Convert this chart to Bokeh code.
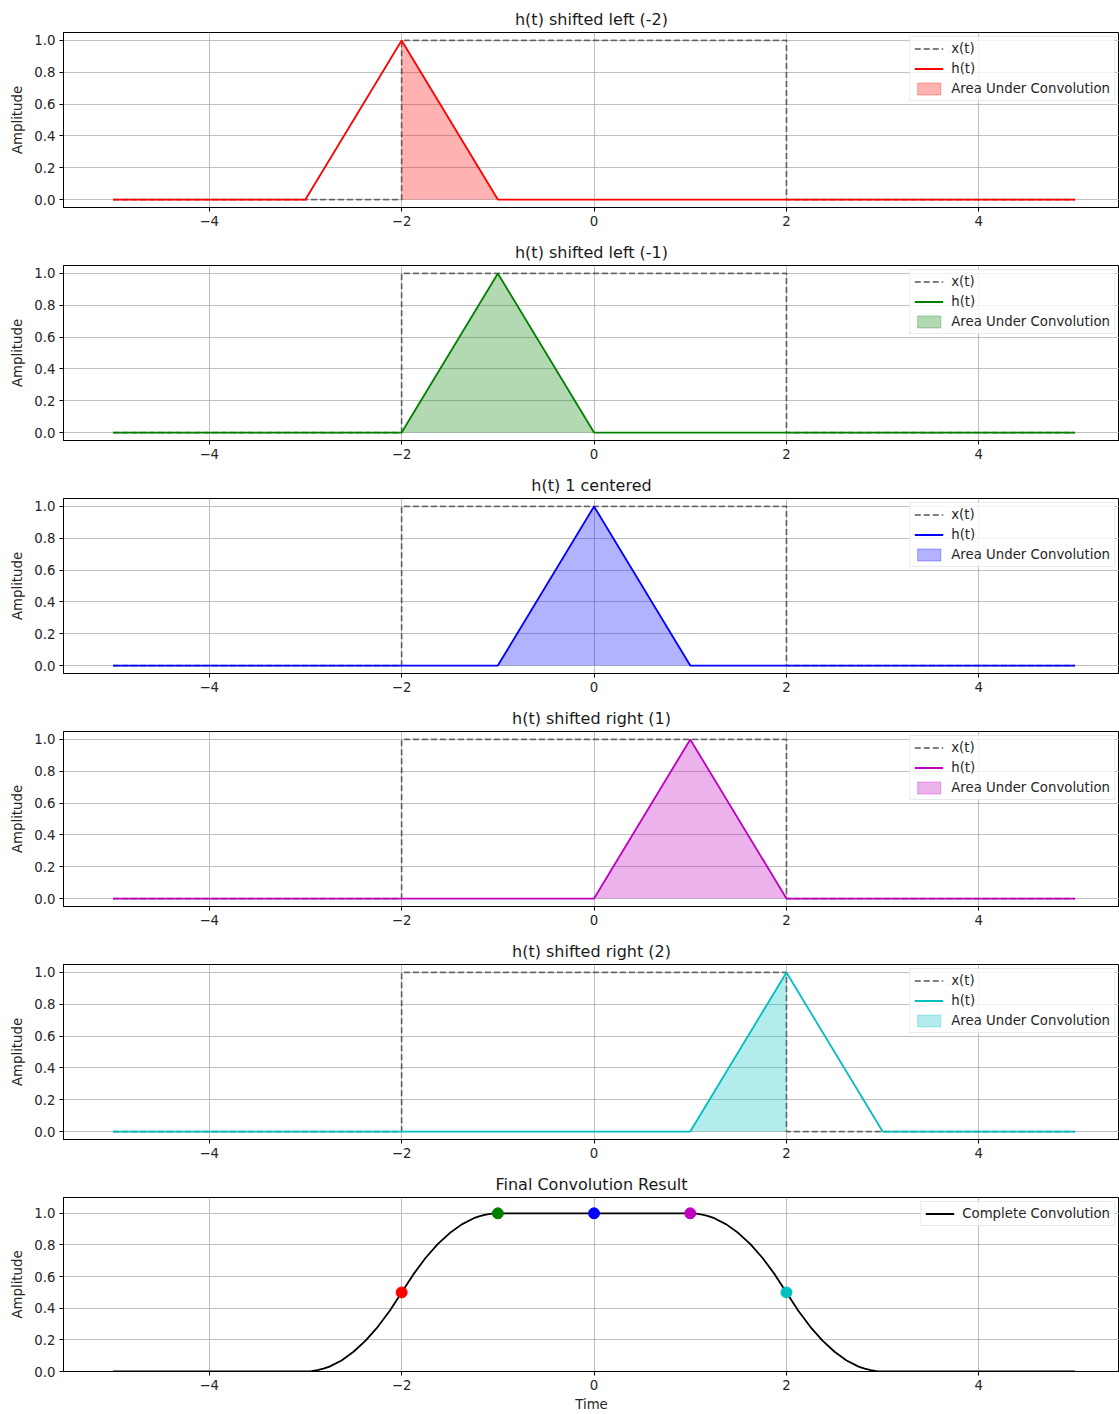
from bokeh.plotting import figure
from bokeh.layouts import column
from bokeh.models import Range1d, FixedTicker, Legend, LegendItem, CustomJSTickFormatter
from bokeh.embed import file_html
from bokeh.resources import INLINE

# Panels: shift of h(t), title and colour
shifts = [-2, -1, 0, 1, 2]
panel_titles = [
    "h(t) shifted left (-2)",
    "h(t) shifted left (-1)",
    "h(t) 1 centered",
    "h(t) shifted right (1)",
    "h(t) shifted right (2)",
]
panel_colors = ["#ff0000", "#008000", "#0000ff", "#bf00bf", "#00bfbf"]

# Rectangular input x(t) on [-5, 5]
rect_t = [-5, -2, -2, 2, 2, 5]
rect_v = [0, 0, 1, 1, 0, 0]

# Triangular pulse h(t), vertices relative to its centre
pulse_t = [-1, 0, 1]
pulse_v = [0, 1, 0]
t_start, t_end = -5, 5

# Overlap of x(t) and the shifted h(t) (area under convolution)
overlap_t = [[-2, -1], [-2, -1, 0], [-1, 0, 1], [0, 1, 2], [1, 2]]
overlap_v = [[1, 0], [0, 1, 0], [0, 1, 0], [0, 1, 0], [0, 1]]

# Complete convolution result
conv_t = [-5, -3, -2.9375, -2.875, -2.8125, -2.75, -2.625, -2.5, -2.375, -2.25,
          -2.125, -2, -1.875, -1.75, -1.625, -1.5, -1.375, -1.25, -1.1875,
          -1.125, -1.0625, -1,
          1, 1.0625, 1.125, 1.1875, 1.25, 1.375, 1.5, 1.625, 1.75, 1.875, 2,
          2.125, 2.25, 2.375, 2.5, 2.625, 2.75, 2.8125, 2.875, 2.9375, 3, 5]
conv_v = [0, 0, 0.002, 0.008, 0.018, 0.031, 0.07, 0.125, 0.195, 0.281,
          0.383, 0.5, 0.617, 0.719, 0.805, 0.875, 0.93, 0.969, 0.982,
          0.992, 0.998, 1.0,
          1.0, 0.998, 0.992, 0.982, 0.969, 0.93, 0.875, 0.805, 0.719, 0.617, 0.5,
          0.383, 0.281, 0.195, 0.125, 0.07, 0.031, 0.018, 0.008, 0.002, 0, 0]

# Convolution value at each shift
marker_t = [-2, -1, 0, 1, 2]
marker_v = [0.5, 1.0, 1.0, 1.0, 0.5]

x_ticks = [-4, -2, 0, 2, 4]
y_ticks = [0.0, 0.2, 0.4, 0.6, 0.8, 1.0]

FONT = "DejaVu Sans"
W = 1119
X_LO, X_HI = -5.515, 5.462
LW = 1.8


def make_fig(title, height, bottom, y_range, xlabel=None):
    p = figure(width=W, height=height, output_backend="svg", toolbar_location=None,
               x_range=Range1d(X_LO, X_HI), y_range=y_range,
               min_border_left=63, min_border_right=0,
               min_border_top=32, min_border_bottom=bottom)
    p.title.text = title
    p.title.align = "center"
    p.title.text_font = FONT
    p.title.text_font_size = "16px"
    p.title.text_font_style = "normal"
    p.title.text_color = "#1a1a1a"
    p.title.standoff = 7
    p.outline_line_color = "black"
    p.outline_line_width = 1
    p.outline_line_alpha = 1

    for ax in (p.xaxis[0], p.yaxis[0]):
        ax.major_label_text_font = FONT
        ax.major_label_text_font_size = "13.3px"
        ax.major_label_text_color = "#262626"
        ax.axis_line_color = "black"
        ax.major_tick_line_color = "black"
        ax.major_tick_in = 0
        ax.major_tick_out = 4
        ax.minor_tick_line_color = None
        ax.major_label_standoff = 4
        ax.axis_label_text_font = FONT
        ax.axis_label_text_font_size = "13.3px"
        ax.axis_label_text_font_style = "normal"
        ax.axis_label_text_color = "#262626"

    p.xaxis.ticker = FixedTicker(ticks=x_ticks)
    p.xaxis.formatter = CustomJSTickFormatter(
        code="return tick < 0 ? '\u2212' + Math.abs(tick) : String(tick);")
    p.yaxis.ticker = FixedTicker(ticks=y_ticks)
    p.yaxis.formatter = CustomJSTickFormatter(code="return tick.toFixed(1);")
    p.yaxis.axis_label = "Amplitude"
    p.yaxis.axis_label_standoff = 6
    if xlabel:
        p.xaxis.axis_label = xlabel
        p.xaxis.axis_label_standoff = 4

    p.xgrid.ticker = FixedTicker(ticks=x_ticks)
    p.ygrid.ticker = FixedTicker(ticks=y_ticks)
    for g in (p.xgrid[0], p.ygrid[0]):
        g.grid_line_color = "#b0b0b0"
        g.grid_line_width = 0.8
    return p


def style_legend(p, items):
    leg = Legend(items=items, location="top_right")
    leg.label_text_font = FONT
    leg.label_text_font_size = "13.3px"
    leg.label_text_color = "#262626"
    leg.glyph_width = 29
    leg.glyph_height = 15
    leg.label_height = 15
    leg.label_standoff = 8
    leg.spacing = 5
    leg.padding = 4
    leg.margin = 4
    leg.border_line_color = "#d6d6d6"
    leg.border_line_width = 1
    leg.background_fill_color = "white"
    leg.background_fill_alpha = 0.8
    p.add_layout(leg)


figs = []
for i, s in enumerate(shifts):
    c = panel_colors[i]
    p = make_fig(panel_titles[i], 233, 26, Range1d(-0.05, 1.05))

    xr = p.line(rect_t, rect_v, line_color="black", line_alpha=0.5,
                line_width=LW, line_dash="6 3")
    ht = [t_start] + [s + t for t in pulse_t] + [t_end]
    hv = [0] + pulse_v + [0]
    hr = p.line(ht, hv, line_color=c, line_width=LW)
    fr = p.varea(x=overlap_t[i], y1=[0] * len(overlap_t[i]), y2=overlap_v[i],
                 fill_color=c, fill_alpha=0.3)
    sw = p.rect(x=[0], y=[0], width=0, height=0, fill_color=c, fill_alpha=0.3,
                line_color=c, line_alpha=0.3, visible=False)

    style_legend(p, [
        LegendItem(label="x(t)", renderers=[xr]),
        LegendItem(label="h(t)", renderers=[hr]),
        LegendItem(label="Area Under Convolution", renderers=[sw]),
    ])
    figs.append(p)

# Final panel: convolution result with the sampled values
pf = make_fig("Final Convolution Result", 249, 42, Range1d(0, 1.1), xlabel="Time")
cr = pf.line(conv_t, conv_v, line_color="black", line_width=LW)
pf.scatter(marker_t, marker_v, size=11, fill_color=panel_colors,
           line_color=panel_colors)
style_legend(pf, [LegendItem(label="Complete Convolution", renderers=[cr])])
figs.append(pf)

layout = column(*figs, spacing=0)
open("out.html", "w").write(file_html(layout, INLINE))
